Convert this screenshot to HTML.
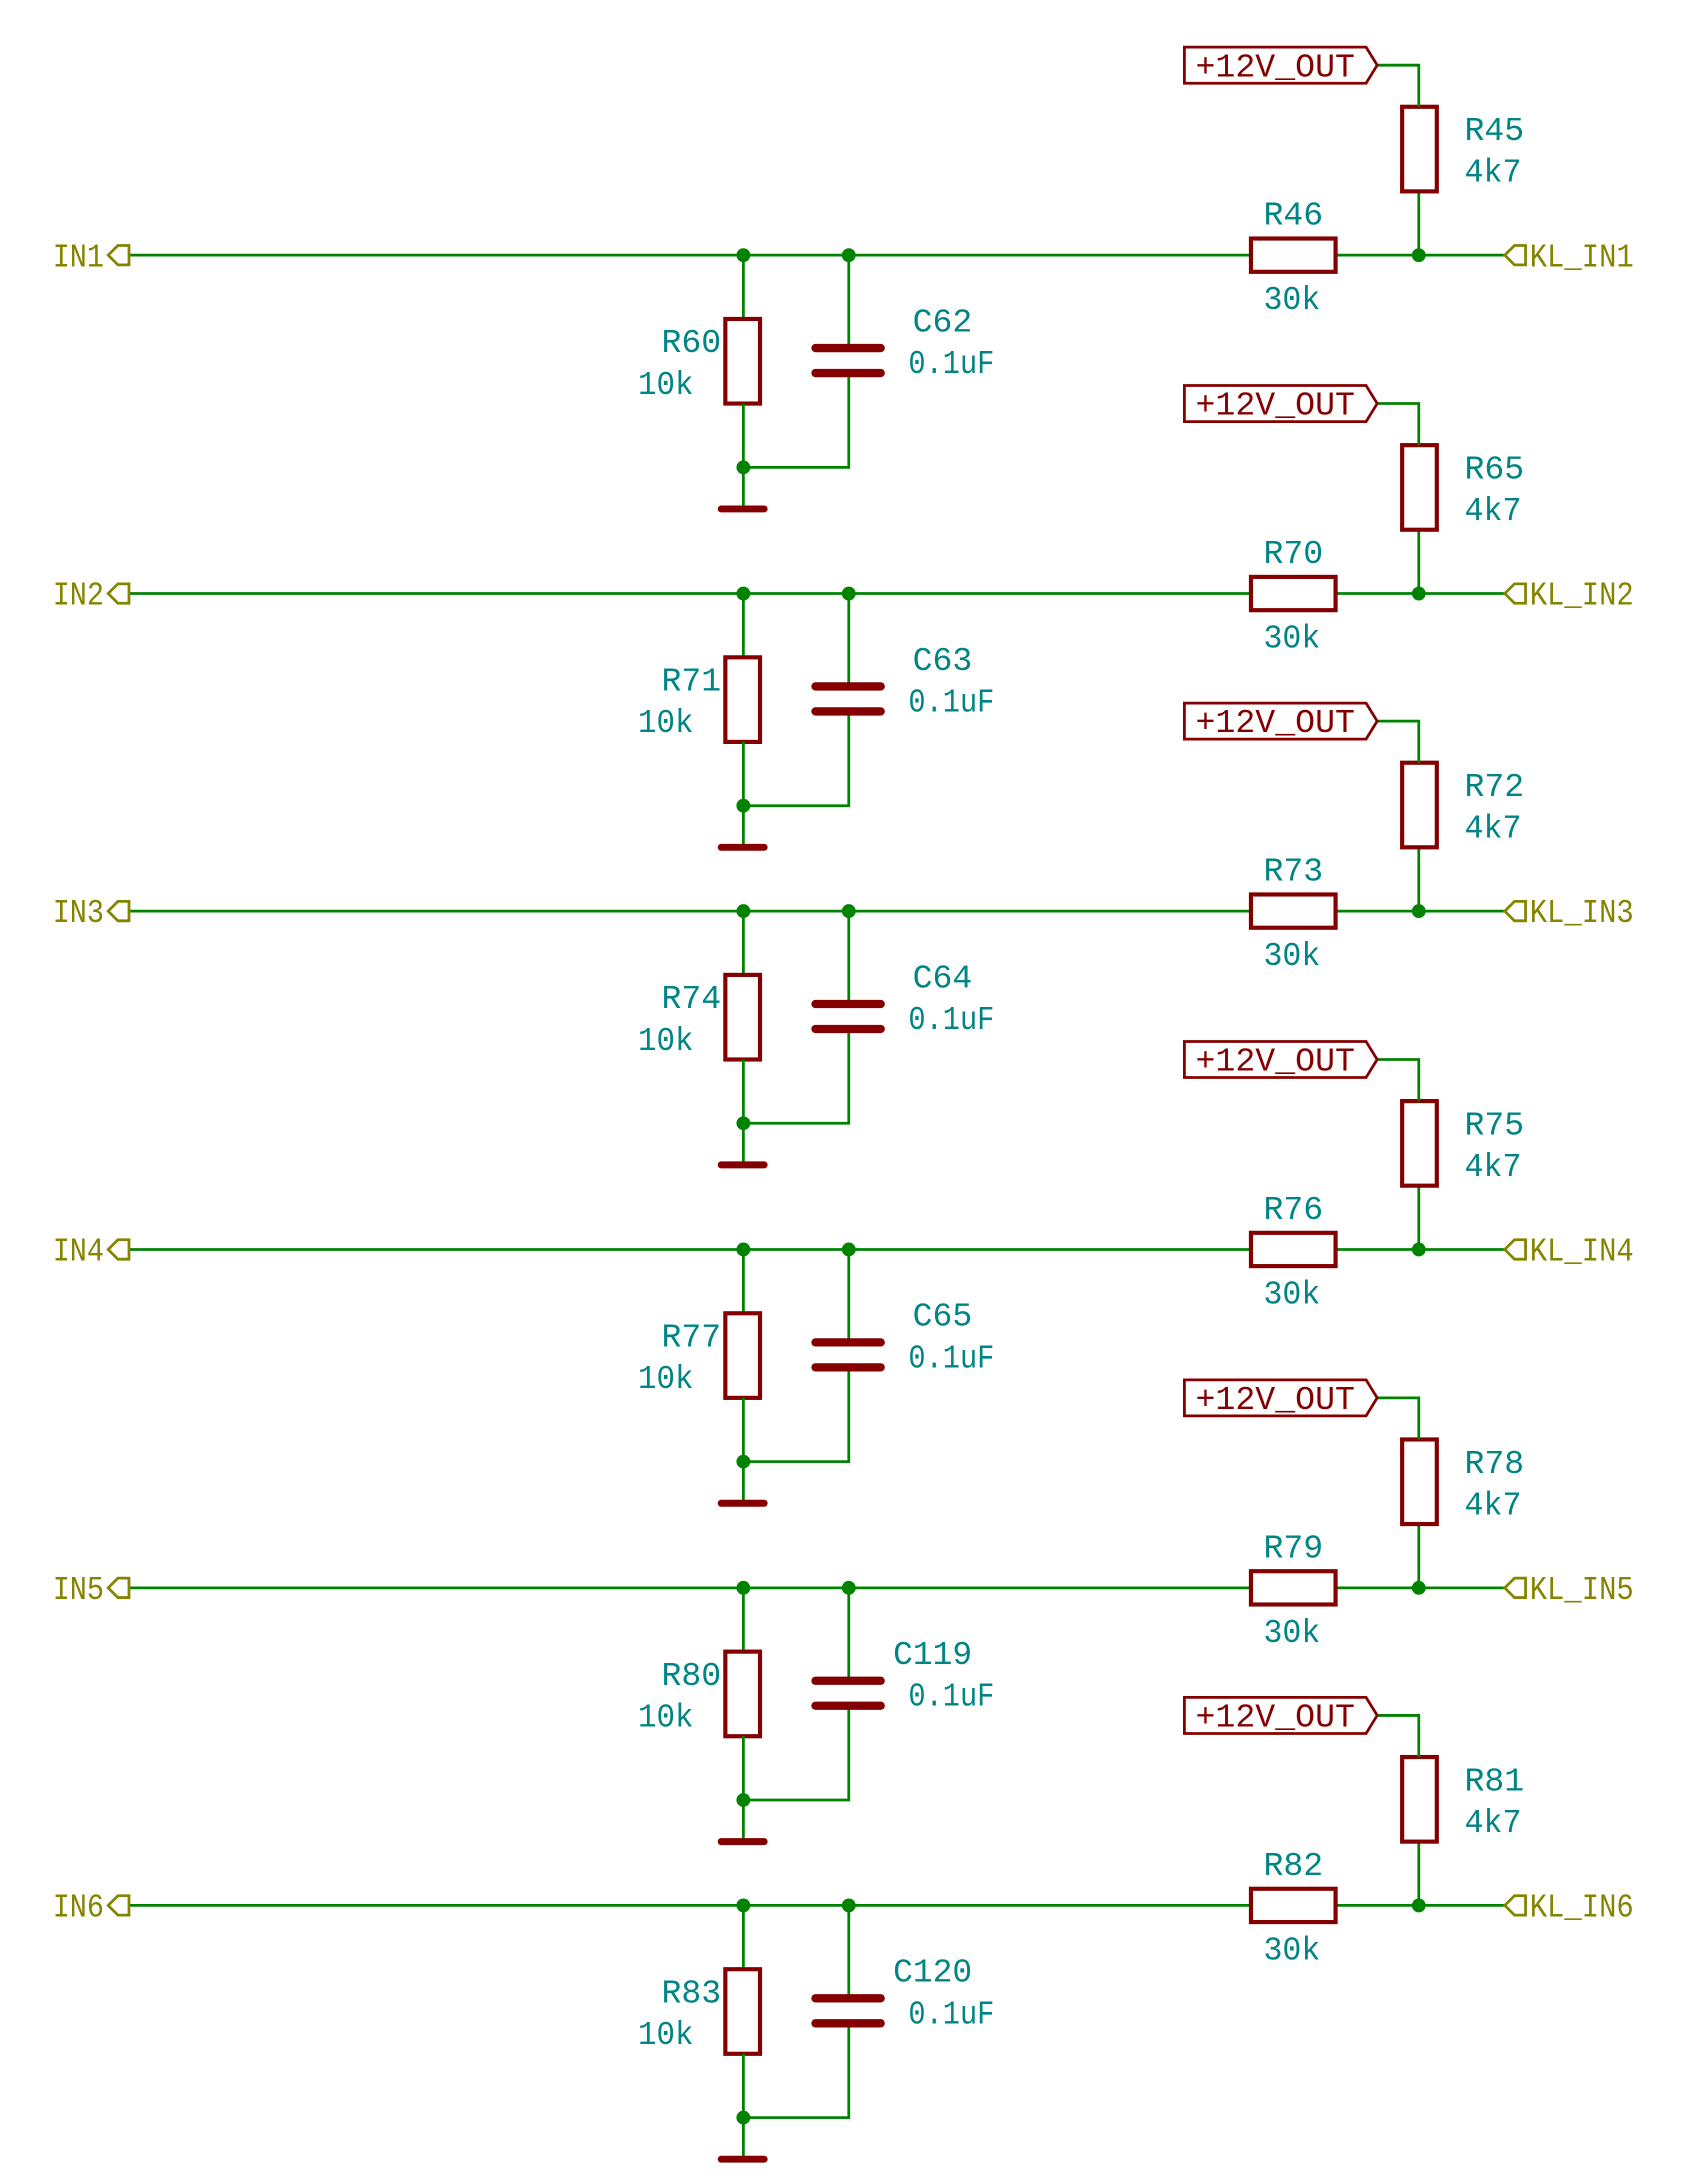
<!DOCTYPE html>
<html><head><meta charset="utf-8"><style>html,body{margin:0;padding:0;background:#fff}svg{display:block}text{font-family:"Liberation Mono",monospace;font-size:24px}</style></head><body>
<svg width="1692" height="2180" viewBox="0 0 1220 1572" preserveAspectRatio="none" xmlns="http://www.w3.org/2000/svg">
<defs>
<g id="row">
<polyline points="93,0 902,0" stroke="#008400" stroke-width="2" fill="none"/>
<polyline points="963,0 1085,0" stroke="#008400" stroke-width="2" fill="none"/>
<polygon points="93,-7 85,-7 78,0 85,7 93,7" stroke="#848400" stroke-width="2" fill="none"/>
<polygon points="1085,0 1092,-7 1100,-7 1100,7 1092,7" stroke="#848400" stroke-width="2" fill="none"/>
<rect x="902" y="-12" width="61" height="24" stroke="#840000" stroke-width="3" fill="none"/>
<polyline points="536,0 536,46" stroke="#008400" stroke-width="2" fill="none"/>
<rect x="523" y="46" width="25" height="61" stroke="#840000" stroke-width="3" fill="none"/>
<polyline points="536,107 536,183" stroke="#008400" stroke-width="2" fill="none"/>
<line x1="520" y1="183" x2="551" y2="183" stroke="#840000" stroke-width="5" stroke-linecap="round"/>
<polyline points="536,153 612,153 612,85" stroke="#008400" stroke-width="2" fill="none"/>
<polyline points="612,0 612,67" stroke="#008400" stroke-width="2" fill="none"/>
<line x1="588" y1="67" x2="635" y2="67" stroke="#840000" stroke-width="6" stroke-linecap="round"/>
<line x1="588" y1="85" x2="635" y2="85" stroke="#840000" stroke-width="6" stroke-linecap="round"/>
<polyline points="1023,0 1023,-46" stroke="#008400" stroke-width="2" fill="none"/>
<rect x="1011" y="-107" width="25" height="61" stroke="#840000" stroke-width="3" fill="none"/>
<polyline points="1023,-107 1023,-137 993,-137" stroke="#008400" stroke-width="2" fill="none"/>
<polygon points="854,-150 985,-150 993,-137 985,-124 854,-124" stroke="#840000" stroke-width="2" fill="none"/>
<text x="862" y="-129" fill="#840000" textLength="115" lengthAdjust="spacingAndGlyphs">+12V_OUT</text>
<circle cx="536" cy="0" r="5" fill="#008400"/>
<circle cx="612" cy="0" r="5" fill="#008400"/>
<circle cx="1023" cy="0" r="5" fill="#008400"/>
<circle cx="536" cy="153" r="5" fill="#008400"/>
<text x="460" y="100" fill="#008484" textLength="40" lengthAdjust="spacingAndGlyphs">10k</text>
<text x="911" y="39" fill="#008484" textLength="41" lengthAdjust="spacingAndGlyphs">30k</text>
<text x="655" y="85" fill="#008484" textLength="62" lengthAdjust="spacingAndGlyphs">0.1uF</text>
<text x="1056" y="-53" fill="#008484" textLength="41" lengthAdjust="spacingAndGlyphs">4k7</text>
</g>
</defs>
<g transform="translate(0,184)"><use href="#row"/>
<text x="38" y="8" fill="#848400" textLength="37" lengthAdjust="spacingAndGlyphs">IN1</text>
<text x="1103" y="8" fill="#848400" textLength="75" lengthAdjust="spacingAndGlyphs">KL_IN1</text>
<text x="911" y="-22" fill="#008484" textLength="43" lengthAdjust="spacingAndGlyphs">R46</text>
<text x="477" y="70" fill="#008484" textLength="43" lengthAdjust="spacingAndGlyphs">R60</text>
<text x="658" y="55" fill="#008484" textLength="43" lengthAdjust="spacingAndGlyphs">C62</text>
<text x="1056" y="-83" fill="#008484" textLength="43" lengthAdjust="spacingAndGlyphs">R45</text>
</g>
<g transform="translate(0,428)"><use href="#row"/>
<text x="38" y="8" fill="#848400" textLength="37" lengthAdjust="spacingAndGlyphs">IN2</text>
<text x="1103" y="8" fill="#848400" textLength="75" lengthAdjust="spacingAndGlyphs">KL_IN2</text>
<text x="911" y="-22" fill="#008484" textLength="43" lengthAdjust="spacingAndGlyphs">R70</text>
<text x="477" y="70" fill="#008484" textLength="43" lengthAdjust="spacingAndGlyphs">R71</text>
<text x="658" y="55" fill="#008484" textLength="43" lengthAdjust="spacingAndGlyphs">C63</text>
<text x="1056" y="-83" fill="#008484" textLength="43" lengthAdjust="spacingAndGlyphs">R65</text>
</g>
<g transform="translate(0,657)"><use href="#row"/>
<text x="38" y="8" fill="#848400" textLength="37" lengthAdjust="spacingAndGlyphs">IN3</text>
<text x="1103" y="8" fill="#848400" textLength="75" lengthAdjust="spacingAndGlyphs">KL_IN3</text>
<text x="911" y="-22" fill="#008484" textLength="43" lengthAdjust="spacingAndGlyphs">R73</text>
<text x="477" y="70" fill="#008484" textLength="43" lengthAdjust="spacingAndGlyphs">R74</text>
<text x="658" y="55" fill="#008484" textLength="43" lengthAdjust="spacingAndGlyphs">C64</text>
<text x="1056" y="-83" fill="#008484" textLength="43" lengthAdjust="spacingAndGlyphs">R72</text>
</g>
<g transform="translate(0,901)"><use href="#row"/>
<text x="38" y="8" fill="#848400" textLength="37" lengthAdjust="spacingAndGlyphs">IN4</text>
<text x="1103" y="8" fill="#848400" textLength="75" lengthAdjust="spacingAndGlyphs">KL_IN4</text>
<text x="911" y="-22" fill="#008484" textLength="43" lengthAdjust="spacingAndGlyphs">R76</text>
<text x="477" y="70" fill="#008484" textLength="43" lengthAdjust="spacingAndGlyphs">R77</text>
<text x="658" y="55" fill="#008484" textLength="43" lengthAdjust="spacingAndGlyphs">C65</text>
<text x="1056" y="-83" fill="#008484" textLength="43" lengthAdjust="spacingAndGlyphs">R75</text>
</g>
<g transform="translate(0,1145)"><use href="#row"/>
<text x="38" y="8" fill="#848400" textLength="37" lengthAdjust="spacingAndGlyphs">IN5</text>
<text x="1103" y="8" fill="#848400" textLength="75" lengthAdjust="spacingAndGlyphs">KL_IN5</text>
<text x="911" y="-22" fill="#008484" textLength="43" lengthAdjust="spacingAndGlyphs">R79</text>
<text x="477" y="70" fill="#008484" textLength="43" lengthAdjust="spacingAndGlyphs">R80</text>
<text x="644" y="55" fill="#008484" textLength="57" lengthAdjust="spacingAndGlyphs">C119</text>
<text x="1056" y="-83" fill="#008484" textLength="43" lengthAdjust="spacingAndGlyphs">R78</text>
</g>
<g transform="translate(0,1374)"><use href="#row"/>
<text x="38" y="8" fill="#848400" textLength="37" lengthAdjust="spacingAndGlyphs">IN6</text>
<text x="1103" y="8" fill="#848400" textLength="75" lengthAdjust="spacingAndGlyphs">KL_IN6</text>
<text x="911" y="-22" fill="#008484" textLength="43" lengthAdjust="spacingAndGlyphs">R82</text>
<text x="477" y="70" fill="#008484" textLength="43" lengthAdjust="spacingAndGlyphs">R83</text>
<text x="644" y="55" fill="#008484" textLength="57" lengthAdjust="spacingAndGlyphs">C120</text>
<text x="1056" y="-83" fill="#008484" textLength="43" lengthAdjust="spacingAndGlyphs">R81</text>
</g>
</svg>
</body></html>
